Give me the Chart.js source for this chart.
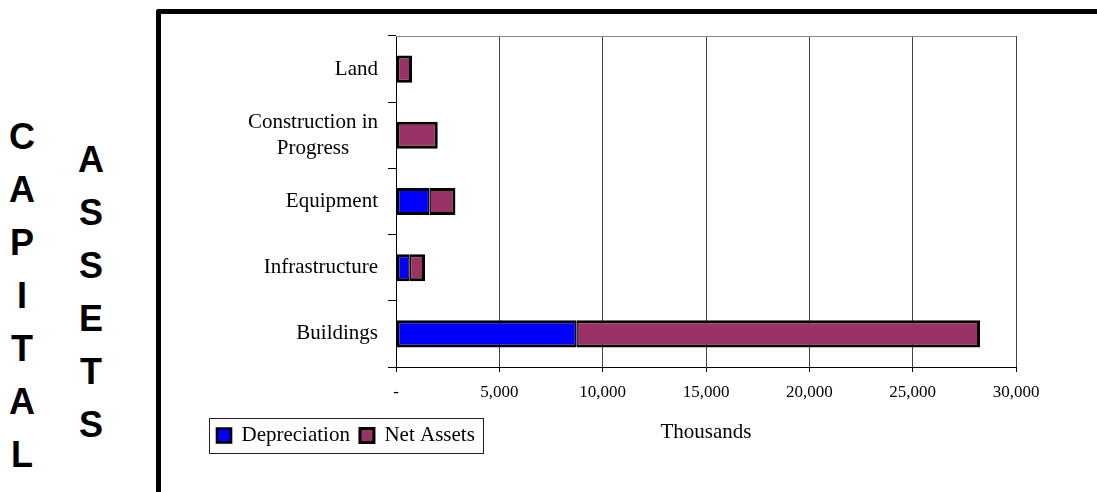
<!DOCTYPE html>
<html>
<head>
<meta charset="utf-8">
<script src="https://cdn.jsdelivr.net/npm/chart.js@4/dist/chart.umd.min.js"></script>
<style>
html,body{margin:0;padding:0;background:#fff;}
#wrap{position:relative;width:1097px;height:492px;overflow:hidden;}
#frame{position:absolute;left:156px;top:9px;width:2000px;height:1000px;border-left:5px solid #000;border-top:5px solid #000;border-top-left-radius:3px;box-sizing:border-box;}
.vt{position:absolute;display:flex;flex-direction:column;align-items:center;width:44px;font-family:"Liberation Sans",Arial,sans-serif;font-weight:bold;font-size:36px;color:#000;}
.vt span{display:block;line-height:53px;height:53px;}
#cap{left:0px;top:110px;}
#ast{left:69px;top:133px;}
canvas{position:absolute;left:0;top:0;}
</style>
</head>
<body>
<div id="wrap">
  <div id="frame"></div>
  <div id="cap" class="vt"><span>C</span><span>A</span><span>P</span><span>I</span><span>T</span><span>A</span><span>L</span></div>
  <div id="ast" class="vt"><span>A</span><span>S</span><span>S</span><span>E</span><span>T</span><span>S</span></div>
  <canvas id="c" width="1097" height="492"></canvas>
</div>
<script>
const categories = ['Land', ['Construction in', 'Progress'], 'Equipment', 'Infrastructure', 'Buildings'];
const depreciation = [0, 0, 1615, 665, 8725];
const netAssets = [775, 2020, 1260, 740, 19535];
const xTickLabels = ['-', '5,000', '10,000', '15,000', '20,000', '25,000', '30,000'];
const seriesNames = ['Depreciation', 'Net Assets'];
const axisTitle = 'Thousands';

const SERIF = '"Liberation Serif", "Times New Roman", serif';

const catLabelPlugin = {
  id: 'catLabels',
  afterDraw(chart) {
    const ys = chart.scales.y;
    const ctx = chart.ctx;
    ctx.save();
    ctx.font = '21px ' + SERIF;
    ctx.fillStyle = '#000';
    ctx.textAlign = 'center';
    ctx.textBaseline = 'middle';
    const lh = 26.5;
    ys.getLabels().forEach((lab, i) => {
      const lines = Array.isArray(lab) ? lab : [lab];
      const w = Math.max(...lines.map(l => ctx.measureText(l).width));
      const cx = ys.right - 18 - w / 2;
      const cy = ys.getPixelForValue(i);
      lines.forEach((l, j) => ctx.fillText(l, cx, cy + (j - (lines.length - 1) / 2) * lh));
    });
    ctx.restore();
  }
};

const framePlugin = {
  id: 'plotFrame',
  beforeDatasetsDraw(chart) {
    const {ctx, chartArea: a} = chart;
    ctx.save();
    ctx.strokeStyle = '#888';
    ctx.lineWidth = 1;
    ctx.beginPath();
    ctx.moveTo(a.left, a.top + 0.5);
    ctx.lineTo(a.right, a.top + 0.5);
    ctx.stroke();
    ctx.restore();
  },
  afterDraw(chart) {
    const lg = chart.legend;
    const hb = lg.legendHitBoxes;
    if (!hb || !hb.length) return;
    const ctx = chart.ctx;
    const l = hb[0].left - 8;
    const last = hb[hb.length - 1];
    const r = last.left + last.width + 8;
    const t = lg.top + 3;
    const b = lg.bottom - 3;
    ctx.save();
    ctx.strokeStyle = '#222';
    ctx.lineWidth = 1;
    ctx.strokeRect(Math.round(l) + 0.5, Math.round(t) + 0.5, Math.round(r - l), Math.round(b - t));
    ctx.restore();
  }
};

new Chart(document.getElementById('c'), {
  type: 'bar',
  data: {
    labels: categories,
    datasets: [
      {label: seriesNames[0], data: depreciation, backgroundColor: '#0000FF', borderColor: '#000',
       borderWidth: {top: 3, bottom: 3, left: 3, right: 1.5}, borderSkipped: false},
      {label: seriesNames[1], data: netAssets, backgroundColor: '#993366', borderColor: '#000',
       borderWidth: (ctx) => ({top: 3, bottom: 3, right: 3, left: (ctx.dataIndex !== undefined && depreciation[ctx.dataIndex]) ? 1.5 : 3}),
       borderSkipped: false}
    ]
  },
  options: {
    indexAxis: 'y',
    responsive: false,
    animation: false,
    datasets: {bar: {categoryPercentage: 1, barPercentage: 0.41}},
    layout: {padding: {left: 207, top: 36, right: 81, bottom: 36}},
    plugins: {
      legend: {
        position: 'bottom',
        align: 'start',
        labels: {font: {family: SERIF, size: 21}, color: '#000', boxWidth: 14, boxHeight: 14, padding: 10}
      },
      tooltip: {enabled: false}
    },
    scales: {
      x: {
        stacked: true,
        min: 0,
        max: 30000,
        ticks: {stepSize: 5000, callback: (v, i) => xTickLabels[i], font: {family: SERIF, size: 17}, color: '#000', padding: 10, maxRotation: 0},
        grid: {color: '#444', lineWidth: 1, tickLength: 5, tickColor: '#000'},
        border: {color: '#000', width: 1},
        title: {display: true, text: axisTitle, font: {family: SERIF, size: 21}, color: '#000', padding: {top: 0, bottom: -30}},
        afterFit: s => { s.height = 48; }
      },
      y: {
        stacked: true,
        grid: {offset: true, drawOnChartArea: false, tickLength: 8, tickColor: '#000'},
        border: {color: '#000', width: 1},
        ticks: {display: false},
        afterFit: s => { s.width = 189; }
      }
    }
  },
  plugins: [catLabelPlugin, framePlugin]
});
</script>
</body>
</html>
